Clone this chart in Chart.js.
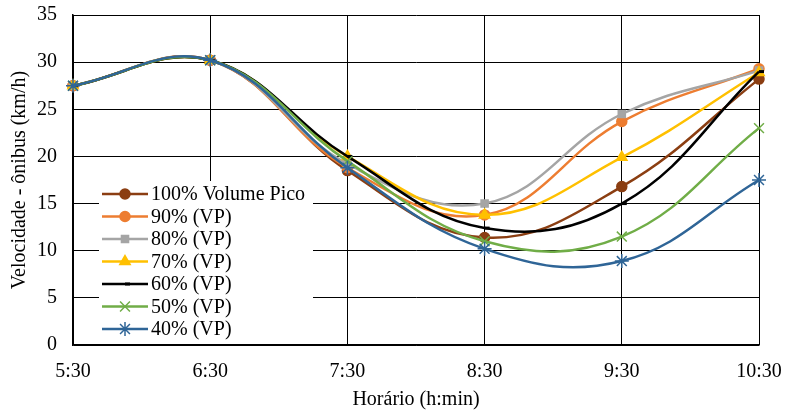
<!DOCTYPE html>
<html>
<head>
<meta charset="utf-8">
<script src="https://cdn.jsdelivr.net/npm/chart.js@4/dist/chart.umd.min.js"></script>
<style>
html,body{margin:0;padding:0;background:#fff}
#wrap{width:785px;height:412px}
</style>
</head>
<body>
<div id="wrap"><canvas id="speedChart"></canvas></div>
<script>
// horarios e velocidades
const horarios = ["5:30","6:30","7:30","8:30","9:30","10:30"]
const yTicks = [0,5,10,15,20,25,30,35]

const vp100 = [27.5,30.2,18.5,11.4,16.8,28.2]
const vp90  = [27.5,30.2,18.8,13.8,23.7,29.3]
const vp80  = [27.5,30.2,19.2,15.0,24.5,29.1]
const vp70  = [27.5,30.2,20.0,13.8,19.9,28.9]
const vp60  = [27.5,30.2,20.0,12.4,15.0,29.0]
const vp50  = [27.5,30.2,19.5,11.0,11.5,23.0]
const vp40  = [27.5,30.2,18.8,10.2,8.9,17.5]

const serif = "'Liberation Serif','DejaVu Serif',serif"

function serie(label,data,color,style,radius,ordem){
return {
label:label,
data:data,
borderColor:color,
backgroundColor:color,
borderWidth:2.5,
pointStyle:style,
pointRadius:radius,
pointBorderWidth:style==="dash"?3:1.5,
tension:0.4,
fill:false,
order:ordem
}
}

// ultima serie por cima, como no original
const datasets = [
serie("100% Volume Pico",vp100,"#8B3E12","circle",5,6),
serie("90% (VP)",vp90,"#ED7D31","circle",5,5),
serie("80% (VP)",vp80,"#A5A5A5","rect",5,4),
serie("70% (VP)",vp70,"#FFC000","triangle",6,3),
serie("60% (VP)",vp60,"#000000","dash",5,2),
serie("50% (VP)",vp50,"#70AD47","crossRot",7,1),
serie("40% (VP)",vp40,"#2F6597","star",7,0)
]

// legenda dentro da area do grafico, com fundo branco
const insideLegend = {
id:"insideLegend",
afterDraw(chart){
const c = chart.ctx
const x0 = 99, yFirst = 194, rowH = 22.5
c.save()
c.fillStyle = "#fff"
c.fillRect(x0, 181, 214, chart.chartArea.bottom-182)
c.font = "20px " + serif
c.textBaseline = "middle"
chart.data.datasets.forEach((ds,i)=>{
let y = yFirst + i*rowH
c.strokeStyle = ds.borderColor
c.lineWidth = 2.5
c.beginPath()
c.moveTo(x0+3,y)
c.lineTo(x0+49,y)
c.stroke()
c.fillStyle = ds.backgroundColor
c.lineWidth = ds.pointBorderWidth
Chart.helpers.drawPoint(c,{pointStyle:ds.pointStyle,radius:ds.pointRadius,rotation:0,borderWidth:ds.pointBorderWidth},x0+26,y)
c.fillStyle = "#000"
c.fillText(ds.label,x0+52,y+1)
})
c.restore()
}
}

new Chart(document.getElementById("speedChart"),{
type:"line",
data:{labels:horarios,datasets:datasets},
options:{
responsive:true,
maintainAspectRatio:false,
animation:false,
layout:{padding:{left:8,right:26,top:15,bottom:0}},
plugins:{
legend:{display:false},
tooltip:{enabled:false}
},
scales:{
x:{
type:"category",
offset:false,
afterFit(scale){
scale.height = 67
scale.paddingLeft = 0
scale.paddingRight = 0
},
grid:{color:"#000",lineWidth:1,drawTicks:false},
border:{color:"#000",width:1.5},
ticks:{color:"#000",padding:15,font:{family:serif,size:20},maxRotation:0},
title:{display:true,text:"Horário (h:min)",color:"#000",font:{family:serif,size:20},padding:{top:0,bottom:0}}
},
y:{
min:0,
max:35,
afterFit(scale){
scale.width = 65
scale.paddingTop = 0
scale.paddingBottom = 0
},
afterBuildTicks(axis){axis.ticks = yTicks.map(v=>({value:v}))},
grid:{color:"#000",lineWidth:1,drawTicks:false},
border:{color:"#000",width:1.5},
ticks:{color:"#000",padding:16,font:{family:serif,size:20}},
title:{display:true,text:"Velocidade - ônibus (km/h)",color:"#000",font:{family:serif,size:20},padding:{top:0,bottom:0}}
}
}
},
plugins:[insideLegend]
})
</script>
</body>
</html>
